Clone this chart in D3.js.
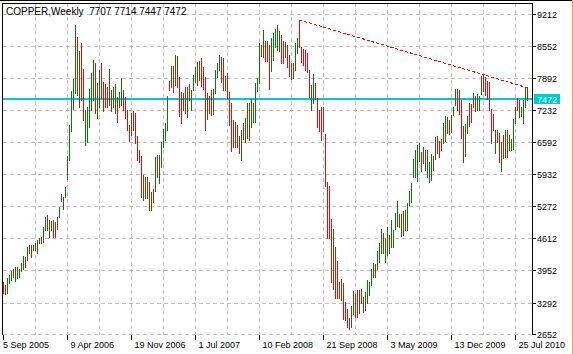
<!DOCTYPE html>
<html>
<head>
<meta charset="utf-8">
<script src="https://cdnjs.cloudflare.com/ajax/libs/d3/7.8.5/d3.min.js"></script>
<style>
  body { margin: 0; background: #fff; }
  svg { display: block; }
  text { font-family: "Liberation Sans", Arial, sans-serif; font-size: 9px; fill: #000; }
  .title { font-size: 10px; }
</style>
</head>
<body>
<div id="chart"></div>
<script>
var symbol = 'COPPER,Weekly',
    lastQuote = [7707, 7714, 7447, 7472];   // open, high, low, close of the last bar

// one label every 32 weekly bars
var dateLabels = ['5 Sep 2005', '9 Apr 2006', '19 Nov 2006', '1 Jul 2007', '10 Feb 2008',
                  '21 Sep 2008', '3 May 2009', '13 Dec 2009', '25 Jul 2010'];
var dateLabelBars = [0, 32, 64, 96, 128, 160, 192, 224, 256];

var priceTicks = [9212, 8552, 7892, 7232, 6592, 5932, 5272, 4612, 3952, 3292, 2652];

var highs = [
  3730, 3660, 3800, 3870, 3940, 4000, 4040, 4030, 4000, 4110,
  4260, 4240, 4440, 4480, 4480, 4480, 4520, 4590, 4620, 4650,
  4860, 5060, 5100, 5000, 4980, 5000, 4960, 5060, 5270, 5530,
  5470, 5680, 6310, 6940, 7630, 7880, 8990, 8750, 8450, 8620,
  8100, 7250, 7320, 7690, 8000, 8280, 8210, 7800, 8070, 8210,
  7830, 7780, 7730, 8100, 7660, 7730, 7780, 7520, 7610, 7900,
  7660, 7520, 7250, 6940, 7180, 7220, 7180, 6720, 6430, 6310,
  5920, 5880, 5880, 5780, 5560, 5640, 6290, 6330, 6330, 6600,
  6870, 6980, 7540, 7850, 8150, 8150, 8380, 8360, 7930, 7610,
  7590, 7730, 7720, 7780, 7660, 7970, 8140, 8240, 8260, 8310,
  8140, 7930, 7590, 7540, 7660, 7690, 8080, 8210, 8380, 8340,
  8310, 7950, 8000, 7610, 7390, 7050, 7010, 6940, 6720, 6840,
  6980, 7080, 7400, 7390, 7470, 7400, 7800, 7900, 8630, 8580,
  8890, 8670, 8670, 8580, 8720, 8820, 8920, 8990, 8860, 8790,
  8670, 8650, 8580, 8380, 8220, 8210, 8620, 8720, 9095, 8550,
  8510, 8470, 8410, 8080, 7760, 7990, 7800, 7490, 7250, 7320,
  7320, 6760, 5780, 5690, 5010, 4820, 4450, 4160, 3730, 3780,
  3700, 3320, 3180, 2980, 3230, 3530, 3480, 3570, 3560, 3590,
  3410, 3510, 3770, 3730, 4000, 4110, 4090, 4350, 4530, 4820,
  4720, 4620, 4850, 4690, 5000, 4800, 5130, 5390, 5120, 5120,
  5170, 5210, 5350, 5580, 5750, 6240, 6440, 6530, 6570, 6380,
  6500, 6440, 6430, 6190, 6350, 6310, 6700, 6720, 6620, 6650,
  6980, 7130, 7100, 7050, 7150, 7320, 7690, 7690, 7650, 7460,
  6920, 6960, 7130, 7400, 7370, 7590, 7540, 7580, 7540, 7950,
  7990, 7930, 7850, 7830, 7280, 7170, 6850, 6840, 6770, 6600,
  6740, 6840, 6830, 6740, 6650, 7060, 7310, 7490, 7460, 7310,
  7460, 7720, 7714
];

var lows = [
  3490, 3480, 3490, 3700, 3770, 3830, 3750, 3800, 3830, 3940,
  4000, 4040, 4180, 4310, 4240, 4370, 4380, 4310, 4520, 4530,
  4550, 4790, 4780, 4650, 4780, 4650, 4650, 4820, 5060, 5390,
  5230, 5460, 5830, 6230, 6810, 7280, 7590, 7560, 7320, 7460,
  7050, 6530, 6600, 6910, 7250, 7460, 7180, 7080, 7320, 7490,
  7220, 7320, 7320, 7350, 7220, 7320, 7180, 7010, 7320, 7350,
  7250, 7080, 6840, 6620, 6740, 6840, 6570, 6230, 6190, 5460,
  5410, 5440, 5440, 5200, 5210, 5370, 5580, 5880, 5760, 6090,
  6500, 6640, 6830, 7670, 7720, 7610, 7760, 7730, 7130, 6980,
  7250, 7180, 7110, 7460, 7260, 7660, 7830, 7760, 7870, 7740,
  7690, 6840, 7070, 7180, 7150, 7170, 7590, 7930, 8070, 7830,
  7670, 7660, 7490, 6940, 6400, 6500, 6500, 6500, 6360, 6230,
  6650, 6600, 6670, 6640, 6900, 7010, 7010, 7630, 7800, 8360,
  8340, 8260, 8260, 7690, 8040, 8280, 8550, 8480, 8450, 8210,
  8220, 8340, 8140, 7950, 7880, 7900, 8070, 8410, 8550, 8240,
  8170, 8070, 8020, 7520, 7250, 7400, 7470, 6910, 6810, 6640,
  6810, 5690, 4620, 4620, 3730, 3590, 3390, 3390, 3390, 3360,
  2960, 2950, 2810, 2770, 2800, 3070, 3010, 3010, 3080, 3300,
  3100, 3140, 3300, 3460, 3660, 3830, 3830, 4000, 4140, 4310,
  4310, 4140, 4280, 4310, 4450, 4450, 4820, 4870, 4860, 4670,
  4690, 4790, 4790, 5300, 5370, 5880, 5880, 5800, 6210, 5990,
  6160, 6030, 5880, 5780, 5820, 6020, 6240, 6360, 6290, 6430,
  6580, 6620, 6770, 6760, 6790, 7150, 7350, 7250, 7170, 6670,
  6190, 6310, 6770, 6930, 7010, 7310, 7220, 7250, 7250, 7580,
  7630, 7560, 7470, 7260, 6570, 6830, 6360, 6600, 6190, 5990,
  6270, 6290, 6280, 6430, 6440, 6460, 6980, 7250, 7110, 7130,
  6990, 7320, 7447
];

// u = close above open (green), d = close below open (red)
var dirs = ('dduuuduuuu' + 'uduududuud' + 'uuduudduud' + 'uuuuuuudud' + 'duuuuuduud' +
            'ddduduuduu' + 'dddduddddd' + 'ududududuu' + 'uuudududdd' + 'ududuuudud' +
            'ddudduuuud' + 'dudddduddu' + 'duuduuuuud' + 'uddduuuuud' + 'dudduduudd' +
            'dddduudddd' + 'dddddudddu' + 'dddduuddud' + 'duuuuuduuu' + 'duuduuuudu' +
            'duuuuuuuud' + 'duuuududdd' + 'uudduuuddd' + 'duudduduuu' + 'dddddduddu' +
            'duduuuuddu' + 'uud').split('');

// trend line drawn from the July 2008 top
var trendFrom = [148, 9095],
    trendTo = [263.3, 7690];

var plot = {left: 3, top: 3, right: 532, bottom: 335},
    colors = {up: '#008000', down: '#ff0000', bid: '#00c8d0', grid: '#c0c0c0', trend: '#ff0000'};

function crisp(v) { return Math.floor(v) + 0.5; }

function buildChart() {
  var width = 573, height = 354,
      svg = d3.select('#chart').append('svg')
        .attr('width', width)
        .attr('height', height),
      x = d3.scaleLinear().domain([0, 264.5]).range([3.5, 532.5]),
      y = d3.scaleLinear().domain([2652, 9212]).range([334.3, 14.3]),
      bars = highs.map(function(h, i) {
        return {i: i, high: h, low: lows[i], up: dirs[i] === 'u'};
      }),
      gridBars = d3.range(16, highs.length, 16);

  // grid
  var grid = svg.append('g')
      .attr('stroke', colors.grid)
      .attr('stroke-dasharray', '4,3')
      .attr('shape-rendering', 'crispEdges');
  grid.selectAll('.hgrid').data(priceTicks)
    .enter().append('line')
      .attr('class', 'hgrid')
      .attr('x1', plot.left).attr('x2', plot.right)
      .attr('y1', function(d) { return crisp(y(d)); })
      .attr('y2', function(d) { return crisp(y(d)); });
  grid.selectAll('.vgrid').data(gridBars)
    .enter().append('line')
      .attr('class', 'vgrid')
      .attr('x1', function(d) { return x(d); })
      .attr('x2', function(d) { return x(d); })
      .attr('y1', plot.top).attr('y2', plot.bottom);

  // bid line
  svg.append('line')
    .attr('x1', plot.left).attr('x2', plot.right)
    .attr('y1', Math.round(y(lastQuote[3]))).attr('y2', Math.round(y(lastQuote[3])))
    .attr('stroke', colors.bid)
    .attr('stroke-width', 2)
    .attr('shape-rendering', 'crispEdges');

  // bars
  svg.append('g').selectAll('.bar').data(bars)
    .enter().append('line')
      .attr('class', 'bar')
      .attr('x1', function(d) { return x(d.i); })
      .attr('x2', function(d) { return x(d.i); })
      .attr('y1', function(d) { return Math.round(y(d.high)); })
      .attr('y2', function(d) { return Math.round(y(d.low)) + 1; })
      .attr('stroke', function(d) { return d.up ? colors.up : colors.down; })
      .attr('shape-rendering', 'crispEdges');

  // trend line
  svg.append('line')
    .attr('x1', x(trendFrom[0])).attr('y1', y(trendFrom[1]))
    .attr('x2', x(trendTo[0])).attr('y2', y(trendTo[1]))
    .attr('stroke', colors.trend)
    .attr('stroke-dasharray', '3,2')
    .attr('shape-rendering', 'crispEdges');

  // frame: top, left and right edges only, the bottom is the last grid row
  var frame = svg.append('g')
      .attr('stroke', '#000')
      .attr('shape-rendering', 'crispEdges');
  frame.append('line').attr('x1', 0).attr('x2', width).attr('y1', 0.5).attr('y2', 0.5);
  frame.append('line')
    .attr('x1', plot.left - 0.5).attr('x2', plot.right + 0.5)
    .attr('y1', plot.top + 0.5).attr('y2', plot.top + 0.5);
  frame.append('line')
    .attr('x1', plot.left - 0.5).attr('x2', plot.left - 0.5)
    .attr('y1', plot.top).attr('y2', plot.bottom);
  frame.append('line')
    .attr('x1', plot.right + 0.5).attr('x2', plot.right + 0.5)
    .attr('y1', plot.top).attr('y2', plot.bottom);
  svg.append('line')
    .attr('x1', width - 0.5).attr('x2', width - 0.5).attr('y1', 0).attr('y2', height)
    .attr('stroke', '#e0a830');

  // price axis
  var pAxis = svg.append('g');
  pAxis.selectAll('.ptick').data(priceTicks)
    .enter().append('line')
      .attr('class', 'ptick')
      .attr('x1', plot.right + 1).attr('x2', plot.right + 4)
      .attr('y1', function(d) { return crisp(y(d)); })
      .attr('y2', function(d) { return crisp(y(d)); })
      .attr('stroke', '#000')
      .attr('shape-rendering', 'crispEdges');
  pAxis.selectAll('.plabel').data(priceTicks)
    .enter().append('text')
      .attr('class', 'plabel')
      .attr('x', plot.right + 5)
      .attr('y', function(d) { return crisp(y(d)) + 3; })
      .text(function(d) { return d; });

  // last price marker
  var bidY = Math.round(y(lastQuote[3]));
  pAxis.append('rect')
    .attr('x', plot.right + 2).attr('y', bidY - 5)
    .attr('width', 26).attr('height', 10)
    .attr('fill', colors.bid);
  pAxis.append('text')
    .attr('x', plot.right + 5).attr('y', bidY + 3.5)
    .style('fill', '#fff')
    .text(lastQuote[3]);

  // time axis
  var tAxis = svg.append('g');
  tAxis.selectAll('.ttick').data(dateLabelBars)
    .enter().append('line')
      .attr('class', 'ttick')
      .attr('x1', function(d) { return x(d); })
      .attr('x2', function(d) { return x(d); })
      .attr('y1', plot.bottom).attr('y2', plot.bottom + 5)
      .attr('stroke', '#000')
      .attr('shape-rendering', 'crispEdges');
  tAxis.selectAll('.tlabel').data(dateLabels)
    .enter().append('text')
      .attr('class', 'tlabel')
      // the first label sits against the left edge
      .attr('x', function(d, i) { return i === 0 ? plot.left : x(dateLabelBars[i]) + 3; })
      .attr('y', 347.5)
      .text(function(d) { return d; });

  // title
  svg.append('text')
    .attr('class', 'title')
    .attr('x', 6).attr('y', 15)
    .style('white-space', 'pre')
    .text(symbol + '  ' + lastQuote.join(' '));
}

buildChart();
</script>
</body>
</html>
